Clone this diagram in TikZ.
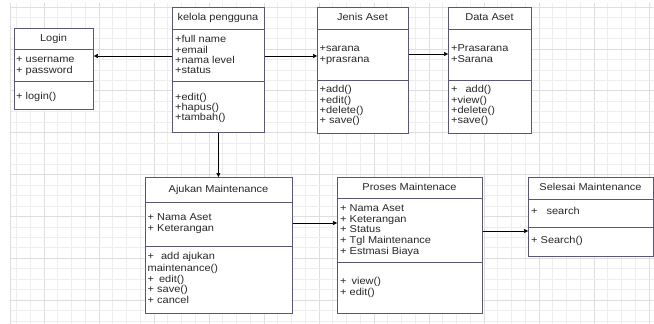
\documentclass[tikz,border=0pt]{standalone}
\usepackage{fontspec}
\setmainfont{Liberation Sans}[FakeStretch=1.1]
\usetikzlibrary{arrows.meta}
\definecolor{boxline}{RGB}{88,88,118}
\definecolor{gridlight}{RGB}{238,238,238}
\definecolor{griddark}{RGB}{222,222,222}
\definecolor{txt}{RGB}{40,40,40}
\begin{document}
\begin{tikzpicture}[x=1pt,y=-1pt,
  font=\fontsize{10}{10.3}\selectfont,
  cls/.style={draw=boxline, line width=0.8pt, fill=white, inner sep=0pt, anchor=north west},
  divider/.style={draw=boxline, line width=0.8pt},
  ttl/.style={inner sep=0pt, text=txt, text height=7.5pt, text depth=2pt},
  mem/.style={inner sep=0pt, anchor=west, text=txt, text height=7.5pt, text depth=2pt},
  conn/.style={draw=black, line width=0.5pt, -{Triangle[length=4pt,width=4pt]}}]
\fill[white] (0,0) rectangle (654,324);
\useasboundingbox (0,0) rectangle (654,324);
% grid
\foreach \k in {-4,...,42}{
  \pgfmathsetmacro\gx{594-13.75*\k}
  \pgfmathtruncatemacro\m{mod(\k+400,4)}
  \ifnum\m=0 \draw[griddark, line width=0.7pt] (\gx,3) -- (\gx,324);
  \else \draw[gridlight, line width=0.6pt] (\gx,3) -- (\gx,324); \fi
}
\foreach \k in {-4,...,26}{
  \pgfmathsetmacro\gy{49+10.46*\k}
  \pgfmathtruncatemacro\m{mod(\k+400,4)}
  \ifnum\m=0 \draw[griddark, line width=0.7pt] (10,\gy) -- (654,\gy);
  \else \draw[gridlight, line width=0.6pt] (10,\gy) -- (654,\gy); \fi
}
\draw[griddark, line width=0.7pt] (10,3) -- (10,324);

% Login
\node[cls, minimum width=79pt, minimum height=81pt] (login) at (14,28) {};
\draw[divider] ([yshift=-21pt]login.north west) -- ([yshift=-21pt]login.north east);
\draw[divider] ([yshift=-53pt]login.north west) -- ([yshift=-53pt]login.north east);
\node[ttl] (loginT) at (53.5,38.5) {Login};
\node[mem] (loginA1) at (16,60) {+ username};
\node[mem] (loginA2) at (16,70.5) {+ password};
\node[mem] (loginM1) at (16,97) {+ login()};

% kelola pengguna
\node[cls, minimum width=92pt, minimum height=125pt] (kelola) at (172,7) {};
\draw[divider] ([yshift=-22pt]kelola.north west) -- ([yshift=-22pt]kelola.north east);
\draw[divider] ([yshift=-74pt]kelola.north west) -- ([yshift=-74pt]kelola.north east);
\node[ttl] (kelolaT) at (218,18) {kelola pengguna};
\node[mem] (kelolaA1) at (175,40) {+full name};
\node[mem] (kelolaA2) at (175,50.5) {+email};
\node[mem] (kelolaA3) at (175,61) {+nama level};
\node[mem] (kelolaA4) at (175,71) {+status};
\node[mem] (kelolaM1) at (175,97.5) {+edit()};
\node[mem] (kelolaM2) at (175,107.5) {+hapus()};
\node[mem] (kelolaM3) at (175,117.5) {+tambah()};

% Jenis Aset
\node[cls, minimum width=91pt, minimum height=126pt] (jenis) at (317,7) {};
\draw[divider] ([yshift=-22pt]jenis.north west) -- ([yshift=-22pt]jenis.north east);
\draw[divider] ([yshift=-73pt]jenis.north west) -- ([yshift=-73pt]jenis.north east);
\node[ttl] (jenisT) at (362.5,17.5) {Jenis Aset};
\node[mem] (jenisA1) at (319.5,49) {+sarana};
\node[mem] (jenisA2) at (319.5,59.5) {+prasrana};
\node[mem] (jenisM1) at (319.5,90) {+add()};
\node[mem] (jenisM2) at (319.5,100.5) {+edit()};
\node[mem] (jenisM3) at (319.5,111) {+delete()};
\node[mem] (jenisM4) at (319.5,121) {+ save()};

% Data Aset
\node[cls, minimum width=83pt, minimum height=126pt] (data) at (448,7) {};
\draw[divider] ([yshift=-22pt]data.north west) -- ([yshift=-22pt]data.north east);
\draw[divider] ([yshift=-73pt]data.north west) -- ([yshift=-73pt]data.north east);
\node[ttl] (dataT) at (489.5,17.5) {Data Aset};
\node[mem] (dataA1) at (451,49) {+Prasarana};
\node[mem] (dataA2) at (451,59.5) {+Sarana};
\node[mem] (dataM1) at (451,90) {+\hspace{8pt}add()};
\node[mem] (dataM2) at (451,100.5) {+view()};
\node[mem] (dataM3) at (451,111) {+delete()};
\node[mem] (dataM4) at (451,121) {+save()};

% Ajukan Maintenance
\node[cls, minimum width=147pt, minimum height=136pt] (ajukan) at (145,177) {};
\draw[divider] ([yshift=-25pt]ajukan.north west) -- ([yshift=-25pt]ajukan.north east);
\draw[divider] ([yshift=-69pt]ajukan.north west) -- ([yshift=-69pt]ajukan.north east);
\node[ttl] (ajukanT) at (218.5,189.5) {Ajukan Maintenance};
\node[mem] (ajukanA1) at (147.5,218) {+ Nama Aset};
\node[mem] (ajukanA2) at (147.5,229) {+ Keterangan};
\node[mem] (ajukanM1) at (147.5,257) {+\hspace{7pt}add ajukan};
\node[mem] (ajukanM2) at (147.5,268.5) {maintenance()};
\node[mem] (ajukanM3) at (147.5,279.5) {+\hspace{5pt}edit()};
\node[mem] (ajukanM4) at (147.5,290) {+ save()};
\node[mem] (ajukanM5) at (147.5,300.5) {+ cancel};

% Proses Maintenace
\node[cls, minimum width=145pt, minimum height=136pt] (proses) at (337,177) {};
\draw[divider] ([yshift=-21pt]proses.north west) -- ([yshift=-21pt]proses.north east);
\draw[divider] ([yshift=-85pt]proses.north west) -- ([yshift=-85pt]proses.north east);
\node[ttl] (prosesT) at (409.5,187.5) {Proses Maintenace};
\node[mem] (prosesA1) at (340,209) {+ Nama Aset};
\node[mem] (prosesA2) at (340,219.5) {+ Keterangan};
\node[mem] (prosesA3) at (340,230) {+ Status};
\node[mem] (prosesA4) at (340,241) {+ Tgl Maintenance};
\node[mem] (prosesA5) at (340,251.5) {+ Estmasi Biaya};
\node[mem] (prosesM1) at (340,282) {+\hspace{5pt}view()};
\node[mem] (prosesM2) at (340,292.5) {+ edit()};

% Selesai Maintenance
\node[cls, minimum width=125pt, minimum height=79pt] (selesai) at (528,177) {};
\draw[divider] ([yshift=-22pt]selesai.north west) -- ([yshift=-22pt]selesai.north east);
\draw[divider] ([yshift=-50pt]selesai.north west) -- ([yshift=-50pt]selesai.north east);
\node[ttl] (selesaiT) at (590.5,188) {Selesai Maintenance};
\node[mem] (selesaiA1) at (531,212) {+\hspace{9pt}search};
\node[mem] (selesaiM1) at (531,241) {+ Search()};

% connectors
\draw[conn] (kelola.west |- 0,56) -- (login.east |- 0,56);
\draw[conn] (kelola.east |- 0,56) -- (jenis.west |- 0,56);
\draw[conn] (jenis.east |- 0,54) -- (data.west |- 0,54);
\draw[conn] (kelola.south) -- (ajukan.north -| kelola.south);
\draw[conn] (ajukan.east |- 0,223) -- (proses.west |- 0,223);
\draw[conn] (proses.east |- 0,231) -- (selesai.west |- 0,231);
\end{tikzpicture}
\end{document}
